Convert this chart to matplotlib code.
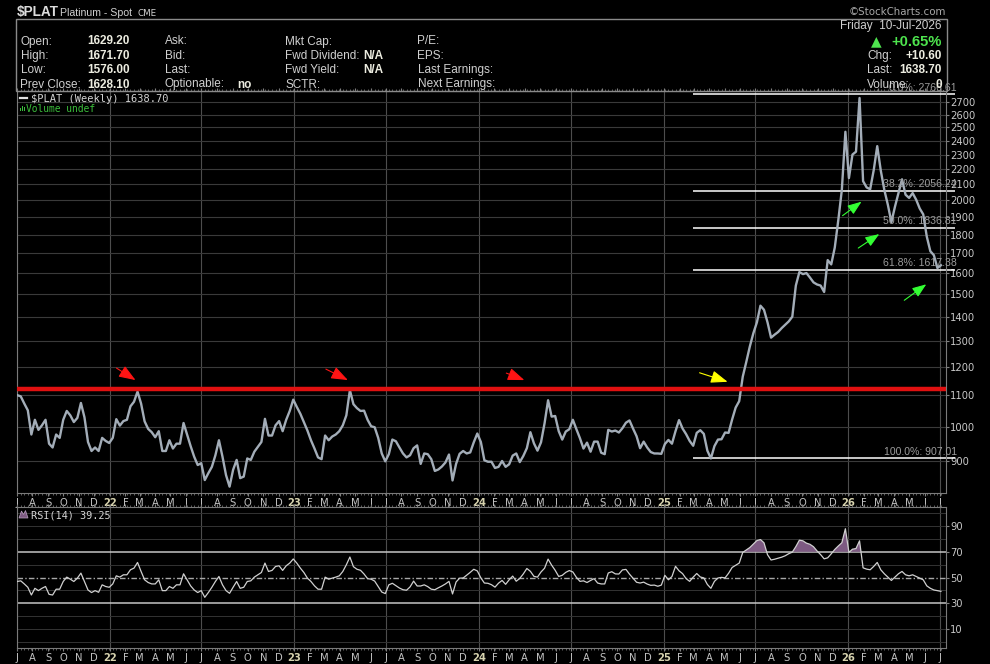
import matplotlib
matplotlib.use('Agg')
import matplotlib.pyplot as plt
from matplotlib.ticker import FixedLocator, FuncFormatter, NullLocator
from matplotlib.patches import Rectangle, Polygon
from matplotlib.lines import Line2D
import numpy as np
import pandas as pd

W, H = 990, 664

# ---------------- data (weekly closes) ----------------
price = [
    1101, 1097, 1073, 1051, 976, 1021, 990, 1004, 1021, 949,
    938, 976, 966, 1021, 1049, 1035, 1014, 1027, 1075, 1029,
    954, 928, 938, 928, 966, 957, 951, 966, 1023, 1003,
    1017, 1021, 1064, 1079, 1113, 1073, 1016, 993, 983, 968,
    986, 928, 928, 959, 935, 949, 949, 1011, 976, 942,
    912, 889, 894, 849, 867, 884, 916, 959, 912, 862,
    832, 876, 903, 854, 858, 907, 903, 926, 940, 954,
    1024, 973, 973, 1004, 1017, 986, 1021, 1049, 1086, 1062,
    1040, 1014, 988, 959, 935, 910, 905, 973, 959, 970,
    976, 986, 1004, 1035, 1118,
    1071, 1058, 1049, 1050, 1021, 1001, 998, 966, 921, 899,
    919, 961, 956, 938, 921, 910, 916, 936, 944, 892,
    921, 919, 905, 873, 877, 885, 896, 918, 848, 892,
    920, 928, 921, 924, 953, 979, 954, 902, 898, 898,
    881, 884, 900, 884, 891, 915, 921, 897, 914, 936,
    983, 950, 929, 953, 1010, 1084, 1031, 1033, 986, 961,
    985, 992, 1021, 992, 965, 935, 952, 926, 955, 955,
    923, 919, 990, 985, 988, 982, 995, 1012, 1019, 994,
    971, 936, 955, 938, 925, 921,
    921, 920, 948, 960, 949, 986, 1020, 994, 977, 957,
    943, 981, 989, 978, 929, 907, 942, 961, 962, 982,
    981, 1022, 1060, 1081, 1165, 1219, 1278, 1331, 1376, 1448,
    1430, 1376, 1313, 1325, 1336, 1352, 1366, 1380, 1400,
    1540, 1605, 1595, 1600, 1578, 1555, 1545, 1540, 1510, 1665,
    1643, 1730, 1882, 2064, 2466, 2140, 2300, 2320, 2735, 2120,
    2080, 2068, 2192, 2360, 2190, 2064, 1972, 1870, 1960, 2044,
    2132, 2034, 2014, 2044, 2003, 1950, 1915, 1789, 1711, 1690,
    1625, 1638.7,
]

rsi = [
    46.9, 47.4, 45.0, 42.4, 36.4, 41.6, 39.8, 41.6, 43.0, 36.9,
    36.4, 40.9, 40.9, 46.9, 50.3, 48.7, 46.9, 49.5, 53.4, 46.9,
    40.3, 38.3, 39.8, 38.5, 44.3, 43.0, 42.4, 45.0, 51.3, 50.3,
    52.1, 52.1, 56.0, 57.3, 61.7, 54.7, 48.2, 46.1, 45.0, 45.0,
    48.2, 39.8, 39.8, 43.0, 41.6, 44.3, 44.3, 52.9, 48.2, 43.5,
    40.3, 38.3, 39.8, 34.6, 38.3, 42.4, 46.9, 50.8, 44.3, 39.8,
    37.7, 42.4, 46.9, 41.6, 42.4, 46.9, 47.4, 50.3, 52.1, 53.9,
    61.2, 54.7, 55.5, 58.6, 59.1, 55.5, 59.1, 61.2, 64.4, 61.2,
    57.3, 53.9, 49.5, 46.9, 43.5, 40.9, 40.9, 50.3, 48.7, 49.5,
    50.3, 51.3, 54.7, 59.9, 65.9,
    58.4, 56.4, 55.6, 52.7, 49.1, 48.7, 47.2, 43.0, 38.7, 37.5,
    44.3, 45.5, 43.7, 41.8, 40.5, 40.1, 42.7, 47.2, 43.4, 43.4,
    44.3, 42.9, 40.9, 40.5, 42.0, 43.4, 45.0, 47.0, 37.2, 46.5,
    49.5, 49.6, 51.8, 54.0, 56.4, 55.1, 49.7, 45.7, 45.5, 44.4,
    42.5, 45.6, 47.7, 44.7, 48.2, 51.1, 47.1, 49.3, 52.8, 57.0,
    54.8, 50.9, 50.3, 54.3, 57.2, 64.3, 59.6, 55.6, 50.8, 51.7,
    54.0, 55.4, 54.3, 50.1, 47.0, 47.4, 46.1, 47.7, 49.1, 45.7,
    45.0, 45.0, 53.5, 54.5, 52.8, 52.7, 55.9, 56.3, 52.6, 49.4,
    46.3, 45.7, 46.4, 44.9, 43.9, 44.1, 43.2, 44.1, 51.7, 48.2,
    50.8, 58.7, 55.2, 53.0, 49.1, 47.0, 50.3, 53.1, 50.4, 49.7,
    44.6, 41.6, 47.0, 49.6, 50.1, 49.7, 53.3, 57.8, 59.5, 61.2,
    69.5, 71.4, 73.3, 76.0, 78.7, 79.5, 77.0, 67.7, 63.6, 64.2,
    65.0, 65.8, 66.9, 68.5, 69.7, 74.0, 79.0, 78.5, 76.7, 75.8,
    73.9, 70.6, 67.8, 64.5, 65.3, 68.4, 71.8, 74.5, 77.0, 87.9,
    69.5, 72.0, 72.5, 78.5, 57.5, 56.5, 56.0, 58.6, 61.7, 56.0,
    52.9, 50.3, 47.7, 50.3, 52.9, 54.7, 52.1, 51.3, 52.1, 50.8,
    49.5, 48.2, 43.5, 41.6, 40.3, 39.8, 39.25,
]

dates = pd.date_range('2021-07-02', periods=len(price), freq='W-FRI')

resistance_level = 1122
fib_levels = [2766.61, 2056.24, 1836.81, 1617.38, 907.01]
fib_labels = ['0.0%: 2766.61', '38.2%: 2056.24', '50.0%: 1836.81',
              '61.8%: 1617.38', '100.0%: 907.01']
fib_start = '2025-02-27'
fib_end = '2026-07-31'

price_ticks = list(range(900, 2800, 100))
rsi_ticks = [10, 30, 50, 70, 90]
rsi_grid = [0, 10, 20, 40, 60, 80, 90, 100]

month_starts = pd.date_range('2021-07-01', '2026-07-01', freq='MS')
month_labels = [d.strftime('%y') if d.month == 1 else 'JFMAMJJASOND'[d.month - 1]
                for d in month_starts]

arrow_dates = ['2022-02-21', '2023-04-17', '2024-03-31', '2025-05-07',
               '2026-01-27', '2026-03-03', '2026-06-04']
arrow_prices = [1153, 1153, 1153, 1147, 1991, 1803, 1546]
arrow_colors = ['#ff1414', '#ff1414', '#ff1414', '#ffff00', '#33ff33', '#33ff33', '#33ff33']
arrow_offsets = [(-19, 12), (-22, 11), (-18, 7), (-28, 9), (-19, -14), (-21, -14), (-22, -16)]
arrow_scale = [12, 12, 12, 12, 10, 10, 10]

header_rows = [
    ('Open:', '1629.20', 'Ask:', '', 'Mkt Cap:', '', 'P/E:'),
    ('High:', '1671.70', 'Bid:', '', 'Fwd Dividend:', 'N/A', 'EPS:'),
    ('Low:', '1576.00', 'Last:', '', 'Fwd Yield:', 'N/A', 'Last Earnings:'),
    ('Prev Close:', '1628.10', 'Optionable:', 'no', 'SCTR:', '', 'Next Earnings:'),
]

# ---------------- figure ----------------
plt.rcParams['font.family'] = ['DejaVu Sans']
fig = plt.figure(figsize=(W / 100, H / 100), dpi=100, facecolor='black')

L, R = 16.7, 946.0
ax = fig.add_axes([L / W, 1 - 493 / H, (R - L) / W, (493 - 91) / H])
ax2 = fig.add_axes([L / W, 1 - 648 / H, (R - L) / W, (648 - 507) / H])
xlim = (pd.Timestamp('2021-07-01'), pd.Timestamp('2026-07-13'))

for a in (ax, ax2):
    a.set_facecolor('black')
    for d in pd.date_range('2021-07-01', '2026-07-01', freq='6MS'):
        a.axvline(d, color='#4d4d4d', lw=0.8, zorder=0)

# ---- price panel ----
ax.set_yscale('log')
ax.set_ylim(816, 2794)
for t in price_ticks:
    ax.axhline(t, color='#3a3a3a', lw=0.8, zorder=0)

ax.hlines(fib_levels, pd.Timestamp(fib_start), pd.Timestamp(fib_end),
          colors='white', lw=1.1, zorder=2, clip_on=False)
for lvl, lab in zip(fib_levels, fib_labels):
    ax.annotate(lab, xy=(1.0118, lvl), xycoords=('axes fraction', 'data'),
                xytext=(0, 1.2), textcoords='offset points', ha='right', va='bottom',
                color='#9c9c9c', fontsize=7.6, family='Liberation Sans',
                annotation_clip=False, zorder=6)

ax.plot(dates, price, color='#a3adb8', lw=1.7, zorder=3, solid_joinstyle='round')
ax.axhline(resistance_level, color='#e01010', lw=3.2, zorder=4)

for d, p, c, off, ms in zip(arrow_dates, arrow_prices, arrow_colors, arrow_offsets, arrow_scale):
    ax.annotate('', xy=(pd.Timestamp(d), p), xytext=off, textcoords='offset pixels',
                arrowprops=dict(arrowstyle='-|>,head_length=0.85,head_width=0.32',
                                color=c, lw=0.8, shrinkA=0, shrinkB=0,
                                mutation_scale=ms), zorder=5)

ax.yaxis.set_major_locator(FixedLocator(price_ticks))
ax.yaxis.set_major_formatter(FuncFormatter(lambda v, p: f'{int(round(v))}'))
ax.yaxis.set_minor_locator(NullLocator())

# ---- RSI panel ----
ax2.set_ylim(-4.8, 104.8)
for g in rsi_grid:
    ax2.axhline(g, color='#333333', lw=0.7, zorder=0)
ax2.axhline(70, color='#c4c4c4', lw=1.1, zorder=1)
ax2.axhline(30, color='#c4c4c4', lw=1.1, zorder=1)
ax2.axhline(50, color='#a8a8a8', lw=1.0, zorder=1, dashes=(4, 1.6, 1, 1.6))
rsi_arr = np.array(rsi)
ax2.fill_between(dates, rsi_arr, 70, where=rsi_arr > 70, interpolate=True,
                 color='#7d5a82', lw=0, zorder=2)
ax2.plot(dates, rsi_arr, color='#d0d0d0', lw=0.9, zorder=3)
ax2.set_yticks(rsi_ticks)

# ---- shared axis styling ----
for a in (ax, ax2):
    a.set_xlim(xlim)
    a.set_xticks(month_starts)
    a.set_xticklabels(month_labels)
    a.set_xticks(dates, minor=True)
    a.tick_params(axis='x', which='major', length=2.5, width=0.8, color='#808080',
                  labelcolor='#c4c4c4', labelsize=7.2, pad=1.0, top=True)
    a.tick_params(axis='x', which='minor', length=1.3, width=0.6, color='#707070', top=True)
    for lab, d in zip(a.get_xticklabels(), month_starts):
        if d.month == 1:
            lab.set_fontweight('bold')
            lab.set_color('#d6d2ae')
    a.yaxis.tick_right()
    a.tick_params(axis='y', which='major', length=2.5, width=0.8, color='#808080',
                  labelcolor='#c8c8c8', labelsize=7.2, pad=0.5)
    for s in a.spines.values():
        s.set_color('#7a7a7a')
        s.set_linewidth(0.8)

# ---------------- header ----------------
def ftxt(px, py, s, **kw):
    kw.setdefault('va', 'center')
    return fig.text(px / W, 1 - py / H, s, **kw)

fig.patches.append(Rectangle((16 / W, 1 - 91 / H), (946.7 - 16) / W, (91 - 19.3) / H,
                             transform=fig.transFigure, fill=False,
                             ec='#8a8a8a', lw=1.0))

ftxt(17, 12, '$PLAT', family='Liberation Sans', fontweight='bold', fontsize=9.8, color='#dcdcdc')
ftxt(60, 12.5, 'Platinum - Spot', family='Liberation Sans', fontsize=7.6, color='#d0d0d0')
ftxt(137, 13, 'CME', family='DejaVu Sans', fontsize=6.3, color='#d0d0d0')
ftxt(946, 12, '\u00a9StockCharts.com', family='DejaVu Sans', fontsize=7.4,
     color='#a8a8a8', ha='right')

hdr = dict(family='Liberation Sans', fontsize=8.5, color='#d0d0d0')
hdrb = dict(family='Liberation Sans', fontsize=8.5, color='#ecece0', fontweight='bold')
row_y = [41.5, 56, 70.2, 84.5]
for (l1, v1, l2, v2, l3, v3, l4), yy in zip(header_rows, row_y):
    ftxt(20.5, yy, l1, **hdr)
    ftxt(87, yy, v1, **hdrb)
    ftxt(164.5, yy, l2, **hdr)
    if v2:
        ftxt(237.5, yy, v2, **hdrb)
    ftxt(285, yy, l3, **hdr)
    if v3:
        ftxt(383.5, yy, v3, ha='right', **hdrb)
    ftxt(417.5, yy, l4, **hdr)

ftxt(941.7, 26.5, 'Friday  10-Jul-2026', ha='right', **hdr)
ftxt(941.7, 41.5, '+0.65%', ha='right', family='Liberation Sans', fontsize=10.6,
     fontweight='bold', color='#4ee44e')
ftxt(876, 41.5, '\u25b2', ha='center', family='DejaVu Sans', fontsize=10,
     color='#4ee44e')
ftxt(867, 56, 'Chg:', **hdr)
ftxt(941.7, 56, '+10.60', ha='right', **hdrb)
ftxt(867, 70.2, 'Last:', **hdr)
ftxt(941.7, 70.2, '1638.70', ha='right', **hdrb)
ftxt(867, 84.5, 'Volume:', **hdr)
ftxt(941.7, 84.5, '0', ha='right', **hdrb)

# legend inside price panel
fig.add_artist(Line2D([20 / W, 27 / W], [1 - 98 / H, 1 - 98 / H], color='#e0e0e0', lw=1.6))
ftxt(31, 98.5, '$PLAT (Weekly) 1638.70', family='DejaVu Sans Mono', fontsize=7.5, color='#d4d4d4')
for bx, bh in zip([19.5, 21.5, 23.5], [3, 5, 4]):
    fig.add_artist(Rectangle((bx / W, 1 - 111 / H), 1.4 / W, bh / H,
                             transform=fig.transFigure, color='#3cc03c', lw=0))
ftxt(26, 108.5, 'Volume undef', family='DejaVu Sans Mono', fontsize=6.9, color='#3cc03c')

# RSI label
fig.add_artist(Polygon([(19 / W, 1 - 518 / H), (21.5 / W, 1 - 511 / H), (23.5 / W, 1 - 514.5 / H),
                        (25.5 / W, 1 - 510.5 / H), (28 / W, 1 - 518 / H)],
                       closed=True, transform=fig.transFigure, fc='#7d5a82', ec='#b8a0c0', lw=0.5))
ftxt(31, 515, 'RSI(14) 39.25', family='DejaVu Sans Mono', fontsize=7.4, color='#d4d4d4')

fig.savefig('out.png', dpi=100, facecolor='black')
